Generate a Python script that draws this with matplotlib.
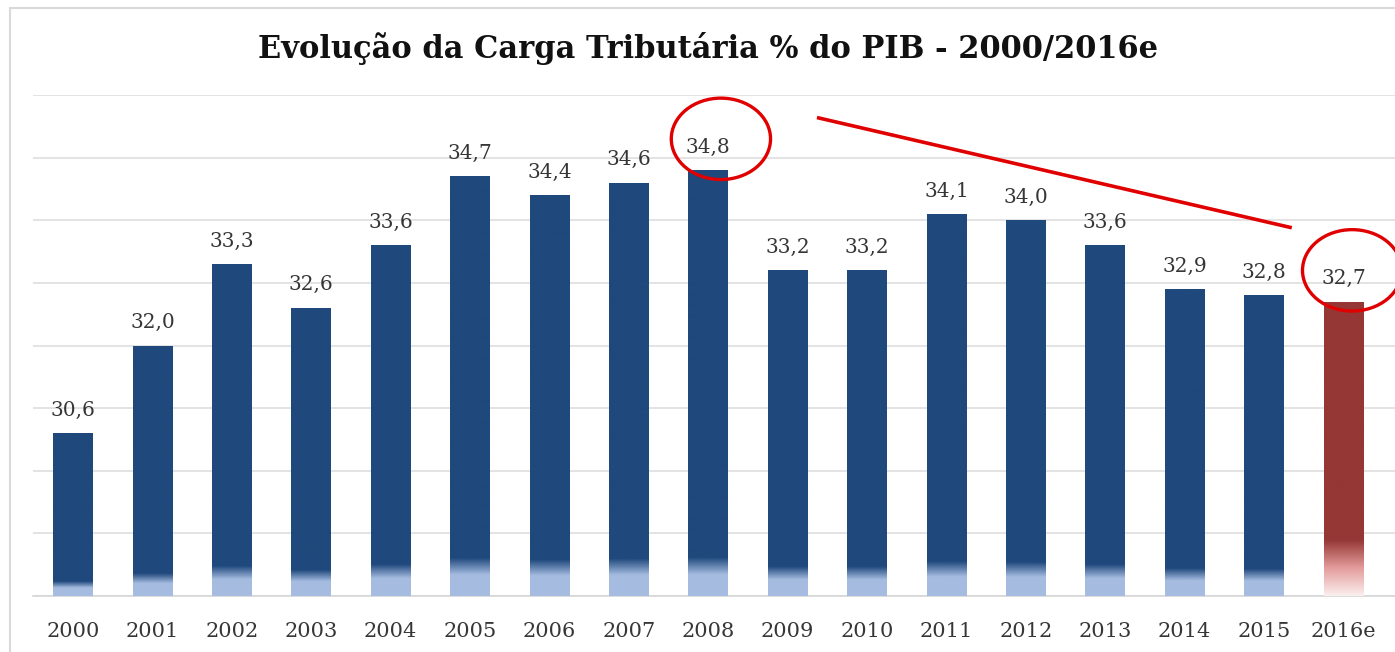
import numpy as np
import matplotlib.pyplot as plt
from matplotlib.patches import Ellipse, Rectangle
from matplotlib.colors import to_rgb

anos = ['2000', '2001', '2002', '2003', '2004', '2005', '2006', '2007', '2008',
        '2009', '2010', '2011', '2012', '2013', '2014', '2015', '2016e']
carga = [30.6, 32.0, 33.3, 32.6, 33.6, 34.7, 34.4, 34.6, 34.8,
         33.2, 33.2, 34.1, 34.0, 33.6, 32.9, 32.8, 32.7]
destaques = [8, 16]

azul, azul_claro = '#1f487c', '#a5bce0'
verm, verm_claro = '#953735', '#fcefef'
cinza = '#363636'
base = 28

fig = plt.figure(figsize=(13.95, 6.52), dpi=100)
ax = fig.add_axes([33/1395, 56/652, 1362/1395, 501/652])

x = np.arange(len(anos))
larg = 0.5
cores = [azul] * (len(anos) - 1) + [verm]
barras = ax.bar(x, np.array(carga) - base, bottom=base, width=larg, color=cores, zorder=3)


def degrade(c_base, c_topo, frac, n=400, ini=0.55):
    # t = posicao relativa ao longo da barra (0 = pe, 1 = topo)
    t = np.linspace(0, 1, n) / frac
    a, b = np.array(to_rgb(c_base)), np.array(to_rgb(c_topo))
    if ini > 0:
        s = np.clip((t - ini) / (1 - ini), 0, 1)
        rgb = a + (b - a) * s[:, None]
    else:
        meio = np.array(to_rgb('#e39b9b'))
        t = np.clip(t, 0, 1)
        rgb = np.where((t < 0.5)[:, None],
                       a + (meio - a) * (t / 0.5)[:, None],
                       meio + (b - meio) * ((t - 0.5) / 0.5)[:, None])
    return rgb[:, None, :]


# degrade claro no pe das barras, recortado pela propria barra
for i, (v, ret) in enumerate(zip(carga, barras)):
    if i == len(anos) - 1:
        img = degrade(verm_claro, verm, 0.19, ini=0)
    else:
        img = degrade(azul_claro, azul, 0.09)
    im = ax.imshow(img, extent=[i - larg / 2 - 0.02, i + larg / 2 + 0.02, base, v],
                   origin='lower', aspect='auto', zorder=4, interpolation='bilinear')
    im.set_clip_path(ret)
    ax.text(i, v + 0.28, f'{v:.1f}'.replace('.', ','), ha='center', va='baseline',
            fontsize=14.5, color=cinza, family='DejaVu Serif', zorder=5)

ax.set_xlim(-0.504, 16.65)
ax.set_ylim(base, 36)
ax.set_yticks(np.arange(base, 37, 1))
ax.yaxis.grid(True, color='#dedede', lw=1.2, zorder=0)
ax.tick_params(axis='y', left=False, labelleft=False)
ax.set_xticks(x, anos)
ax.tick_params(axis='x', length=0, pad=19, labelsize=15, labelcolor=cinza)
for lab in ax.get_xticklabels():
    lab.set_family('DejaVu Serif')
for s in ['top', 'right', 'left']:
    ax.spines[s].set_visible(False)
ax.spines['bottom'].set_color('#d6d6d6')
ax.spines['bottom'].set_linewidth(1.2)

# circulos e seta de destaque
for i in destaques:
    dx = 0.16 if i == 8 else 0.11
    ax.add_patch(Ellipse((i + dx, carga[i] + 0.5), 1.25, 1.3, fill=False,
                         ec='#e00000', lw=2.4, zorder=6, clip_on=False))
ax.plot([8 + 1.37, 16 - 0.65], [carga[8] + 0.84, carga[16] + 1.18],
        color='#e00000', lw=2.6, zorder=6, solid_capstyle='butt')

fig.text(0.5075, 0.926, 'Evolução da Carga Tributária % do PIB - 2000/2016e',
         ha='center', va='center', fontsize=22, fontweight='bold',
         family='DejaVu Serif', color='#111111')
fig.patches.append(Rectangle((10/1395, -0.1), 1.2, 1.1 - 8/652, transform=fig.transFigure,
                             fill=False, ec='#d9d9d9', lw=1.5))

fig.savefig('out.png', dpi=100)
